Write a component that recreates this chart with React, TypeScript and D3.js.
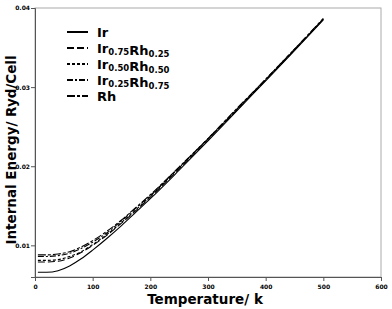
import React, { useEffect, useRef } from "react";
import * as d3 from "d3";

const temps = [5, 20, 40, 60, 80, 100, 125, 150, 175, 200, 250, 300, 350, 400, 450, 500];
const ir = [0.0066, 0.0066, 0.0068, 0.0074, 0.0083, 0.0094, 0.0109, 0.0125, 0.0142, 0.0159, 0.0195, 0.0232, 0.027, 0.0308, 0.0346, 0.0385];
const ir75 = [0.0079, 0.0079, 0.008, 0.0084, 0.0091, 0.01, 0.0113, 0.0128, 0.0144, 0.0161, 0.0197, 0.0234, 0.0271, 0.0309, 0.0347, 0.0386];
const ir50 = [0.0081, 0.0081, 0.0082, 0.0086, 0.0092, 0.0101, 0.0114, 0.0129, 0.0145, 0.0162, 0.0198, 0.0234, 0.0272, 0.0309, 0.0347, 0.0386];
const ir25 = [0.0086, 0.0086, 0.0087, 0.009, 0.0096, 0.0104, 0.0116, 0.0131, 0.0147, 0.0163, 0.0199, 0.0235, 0.0272, 0.031, 0.0348, 0.0386];
const rh = [0.0088, 0.0088, 0.0089, 0.0092, 0.0098, 0.0106, 0.0118, 0.0132, 0.0148, 0.0164, 0.0199, 0.0235, 0.0273, 0.031, 0.0348, 0.0387];

const xTicks = [0, 100, 200, 300, 400, 500, 600];
const yTicks = [0.01, 0.02, 0.03, 0.04];

// legend label parts: [main, sub]
const series = [
    { name: [["Ir", ""]], values: ir, dash: "" },
    { name: [["Ir", "0.75"], ["Rh", "0.25"]], values: ir75, dash: "7,3" },
    { name: [["Ir", "0.50"], ["Rh", "0.50"]], values: ir50, dash: "3,2" },
    { name: [["Ir", "0.25"], ["Rh", "0.75"]], values: ir25, dash: "6,2,2,2" },
    { name: [["Rh", ""]], values: rh, dash: "8,2,3,2" },
];

const width = 392;
const height = 309;
const margin = { top: 8, right: 11, bottom: 32, left: 35 };

const App = () => {
    const ref = useRef<SVGSVGElement>(null);

    useEffect(() => {
        if (!ref.current) return;
        const svg = d3.select(ref.current);
        svg.selectAll("*").remove();

        const x = d3.scaleLinear().domain([0, 600]).range([margin.left, width - margin.right]);
        const y = d3.scaleLinear().domain([0.006, 0.04]).range([height - margin.bottom, margin.top]);

        // frame
        svg.append("rect")
            .attr("x", margin.left)
            .attr("y", margin.top)
            .attr("width", width - margin.left - margin.right)
            .attr("height", height - margin.top - margin.bottom)
            .attr("fill", "none")
            .attr("stroke", "#aaa")
            .attr("stroke-width", 1);

        // x axis
        const gx = svg.append("g").attr("transform", `translate(0,${height - margin.bottom})`);
        gx.call(d3.axisBottom(x).tickValues(d3.range(0, 601, 20)).tickSize(2).tickFormat(() => ""));
        gx.call(d3.axisBottom(x).tickValues(xTicks).tickSize(4).tickPadding(4).tickFormat(d3.format("d")));
        gx.selectAll(".domain").attr("stroke", "#555");
        gx.selectAll("line").attr("stroke", "#555");
        gx.selectAll("text").attr("font-size", 6).attr("font-weight", "bold").attr("font-family", "DejaVu Sans");

        // y axis
        const gy = svg.append("g").attr("transform", `translate(${margin.left},0)`);
        gy.call(d3.axisLeft(y).tickValues(d3.range(0.006, 0.0401, 0.002)).tickSize(2).tickFormat(() => ""));
        gy.call(d3.axisLeft(y).tickValues(yTicks).tickSize(4).tickPadding(1).tickFormat(d3.format(".2f")));
        gy.selectAll(".domain").attr("stroke", "#555");
        gy.selectAll("line").attr("stroke", "#555");
        gy.selectAll("text").attr("font-size", 6).attr("font-weight", "bold").attr("font-family", "DejaVu Sans");

        // lines
        const line = d3
            .line<number>()
            .x((d, i) => x(temps[i]))
            .y((d) => y(d))
            .curve(d3.curveMonotoneX);

        svg.append("g")
            .attr("fill", "none")
            .attr("stroke", "#000")
            .attr("stroke-width", 1.1)
            .selectAll("path")
            .data(series)
            .join("path")
            .attr("stroke-dasharray", (d) => d.dash)
            .attr("d", (d) => line(d.values));

        // legend
        const legend = svg.append("g").attr("font-family", "DejaVu Sans").attr("font-weight", "bold");
        series.forEach((s, i) => {
            const ly = 32 + i * 16;
            legend.append("line")
                .attr("x1", 67)
                .attr("x2", 88)
                .attr("y1", ly)
                .attr("y2", ly)
                .attr("stroke", "#000")
                .attr("stroke-width", 2)
                .attr("stroke-dasharray", s.dash);
            const t = legend.append("text").attr("x", 97).attr("y", ly + 5).attr("font-size", 13);
            s.name.forEach(([main, sub]) => {
                t.append("tspan").attr("dy", 0).text(main);
                if (sub) {
                    t.append("tspan").attr("font-size", 8.5).attr("dy", 2).text(sub);
                    t.append("tspan").attr("font-size", 13).attr("dy", -2).text("");
                }
            });
        });

        // axis titles
        svg.append("text")
            .attr("x", 205)
            .attr("y", 304)
            .attr("text-anchor", "middle")
            .attr("font-family", "DejaVu Sans")
            .attr("font-weight", "bold")
            .attr("font-size", 13.5)
            .text("Temperature/ k");

        svg.append("text")
            .attr("transform", `translate(16,150) rotate(-90)`)
            .attr("text-anchor", "middle")
            .attr("font-family", "DejaVu Sans")
            .attr("font-weight", "bold")
            .attr("font-size", 13.5)
            .text("Internal Energy/ Ryd/Cell");
    }, []);

    return (
        <svg
            ref={ref}
            width={width}
            height={height}
            style={{ position: "absolute", left: 0, top: 0, background: "#fff" }}
        />
    );
};

export default App;
